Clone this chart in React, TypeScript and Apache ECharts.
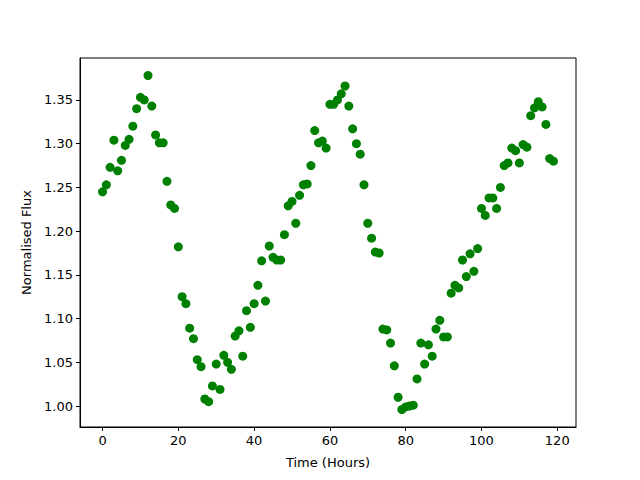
import React, { useEffect, useRef } from "react";
import * as echarts from "echarts";

const hours: number[] = Array.from({ length: 120 }, (_, i) => i);

const flux: number[] = [
  1.245, 1.253, 1.273, 1.304, 1.269, 1.281, 1.298, 1.305, 1.320, 1.340,
  1.353, 1.350, 1.378, 1.343, 1.310, 1.301, 1.301, 1.257, 1.230, 1.226,
  1.182, 1.125, 1.117, 1.089, 1.077, 1.053, 1.045, 1.008, 1.005, 1.023,
  1.048, 1.019, 1.058, 1.050, 1.042, 1.080, 1.086, 1.057, 1.109, 1.090,
  1.117, 1.138, 1.166, 1.120, 1.183, 1.170, 1.167, 1.167, 1.196, 1.229,
  1.234, 1.209, 1.241, 1.253, 1.254, 1.275, 1.315, 1.301, 1.303, 1.295,
  1.345, 1.345, 1.350, 1.357, 1.366, 1.343, 1.317, 1.300, 1.288, 1.253,
  1.209, 1.192, 1.176, 1.175, 1.088, 1.087, 1.072, 1.046, 1.010, 0.996,
  0.999, 1.000, 1.001, 1.031, 1.072, 1.048, 1.070, 1.057, 1.088, 1.098,
  1.079, 1.079, 1.129, 1.138, 1.135, 1.167, 1.148, 1.174, 1.154, 1.180,
  1.226, 1.218, 1.238, 1.238, 1.226, 1.250, 1.275, 1.278, 1.295, 1.292,
  1.278, 1.299, 1.296, 1.332, 1.341, 1.348, 1.342, 1.322, 1.283, 1.280,
];

const xTicks: number[] = [0, 20, 40, 60, 80, 100, 120];
const yTicks: number[] = [1.0, 1.05, 1.1, 1.15, 1.2, 1.25, 1.3, 1.35];

export default function App() {
  const ref = useRef<HTMLDivElement>(null);
  useEffect(() => {
    if (!ref.current) return;
    const chart = echarts.init(ref.current, null, { renderer: "svg" });
    const font = "DejaVu Sans";
    chart.setOption({
      animation: false,
      backgroundColor: "#ffffff",
      grid: {
        left: 80,
        top: 58,
        width: 496,
        height: 369,
        show: true,
        borderColor: "#000",
        borderWidth: 1,
        backgroundColor: "transparent",
      },
      xAxis: {
        type: "value",
        min: -5.95,
        max: 124.95,
        name: "Time (Hours)",
        nameLocation: "middle",
        nameGap: 29,
        nameTextStyle: { color: "#000", fontFamily: font, fontSize: 13 },
        splitLine: { show: false },
        axisLine: { show: true, onZero: false, lineStyle: { color: "#000", width: 1 } },
        axisTick: {
          show: true,
          length: 4,
          lineStyle: { color: "#000" },
          customValues: xTicks,
        },
        axisLabel: {
          color: "#000",
          fontFamily: font,
          fontSize: 13,
          margin: 7,
          customValues: xTicks,
          formatter: (v: number) => String(v),
        },
      },
      yAxis: {
        type: "value",
        min: 0.976,
        max: 1.398,
        name: "Normalised Flux",
        nameLocation: "middle",
        nameGap: 47,
        nameRotate: 90,
        nameTextStyle: { color: "#000", fontFamily: font, fontSize: 13 },
        splitLine: { show: false },
        axisLine: { show: true, onZero: false, lineStyle: { color: "#000", width: 1 } },
        axisTick: {
          show: true,
          length: 4,
          lineStyle: { color: "#000" },
          customValues: yTicks,
        },
        axisLabel: {
          color: "#000",
          fontFamily: font,
          fontSize: 13,
          margin: 7,
          customValues: yTicks,
          formatter: (v: number) => v.toFixed(2),
        },
      },
      series: [
        {
          type: "scatter",
          data: hours.map((h, i) => [h, flux[i]]),
          symbol: "circle",
          symbolSize: 9,
          itemStyle: { color: "#008000", opacity: 1 },
        },
      ],
    });
    return () => chart.dispose();
  }, []);
  return (
    <div
      ref={ref}
      style={{ position: "absolute", left: 0, top: 0, width: 640, height: 480 }}
    />
  );
}
